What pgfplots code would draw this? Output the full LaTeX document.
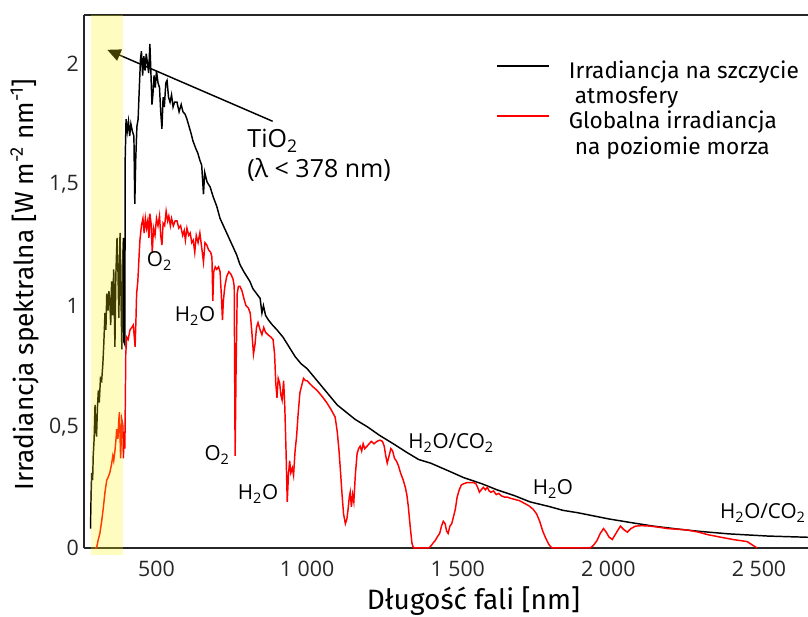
\documentclass[border=0pt]{standalone}
\usepackage{fontspec}
\setmainfont{Fira Sans}
\newfontfamily\osans{Open Sans}
\usepackage{pgfplots}
\usepackage{pgfplotstable}
\pgfplotsset{compat=1.18}
\usetikzlibrary{arrows.meta}

% irradiance at top of atmosphere
\pgfplotstableread{
nm E
281 0.08
283 0.22
285 0.31
288 0.28
290 0.38
293 0.45
296 0.59
298 0.50
301 0.46
304 0.58
307 0.65
310 0.60
314 0.70
318 0.69
322 0.76
325 0.84
329 0.97
332 0.90
335 1.05
339 0.98
342 1.06
345 1.02
348 0.92
351 1.10
354 0.96
358 1.15
362 0.83
365 1.12
369 1.28
372 1.15
375 0.95
379 1.30
382 1.05
385 0.82
388 1.20
390 1.28
392 0.85
395 0.84
396 1.60
399 1.77
403 1.72
407 1.76
411 1.70
415 1.75
420 1.72
425 1.70
428 1.42
431 1.60
435 1.74
439 1.77
443 1.90
447 2.02
450 2.05
454 1.95
458 2.03
462 1.97
466 2.04
470 2.00
474 1.96
478 2.08
481 1.98
485 1.83
488 1.87
492 1.95
496 1.90
500 1.97
505 1.92
510 1.90
514 1.80
518 1.73
522 1.86
526 1.82
531 1.92
535 1.93
540 1.86
545 1.84
550 1.87
555 1.82
560 1.84
568 1.84
575 1.80
582 1.83
588 1.80
595 1.79
601 1.77
608 1.74
615 1.71
621 1.68
630 1.65
637 1.63
644 1.60
650 1.58
656 1.46
660 1.55
668 1.51
678 1.49
688 1.45
700 1.41
711 1.36
722 1.33
733 1.30
744 1.27
755 1.24
766 1.21
777 1.17
790 1.14
800 1.12
810 1.10
820 1.07
832 1.05
844 1.03
850 0.97
855 1.00
862 0.96
872 0.94
885 0.92
900 0.90
920 0.87
940 0.83
960 0.79
980 0.76
1000 0.74
1020 0.71
1040 0.68
1060 0.65
1080 0.62
1100 0.59
1130 0.56
1160 0.53
1200 0.50
1240 0.465
1286 0.43
1330 0.395
1370 0.365
1410 0.35
1475 0.315
1520 0.29
1580 0.265
1630 0.24
1690 0.215
1740 0.19
1800 0.172
1850 0.155
1900 0.145
1960 0.13
2000 0.12
2073 0.105
2150 0.09
2230 0.078
2306 0.068
2400 0.058
2530 0.049
2663 0.044
}\toa

% global irradiance at sea level
\pgfplotstableread{
nm E
296 0.0
301 0.0
306 0.03
312 0.06
318 0.11
323 0.16
329 0.23
335 0.28
339 0.29
345 0.31
350 0.34
355 0.38
358 0.36
362 0.40
365 0.44
368 0.49
372 0.45
375 0.53
377 0.56
381 0.37
385 0.53
388 0.51
390 0.37
393 0.48
395 0.41
398 0.80
401 0.87
406 0.86
412 0.90
418 0.91
423 0.92
429 0.83
432 0.95
434 1.05
438 1.10
442 1.20
445 1.27
450 1.33
455 1.36
459 1.30
463 1.36
467 1.32
471 1.35
475 1.28
478 1.38
482 1.34
486 1.22
490 1.32
495 1.29
500 1.36
505 1.33
510 1.37
514 1.29
518 1.25
522 1.34
527 1.33
532 1.39
537 1.35
541 1.37
546 1.33
550 1.36
556 1.33
562 1.35
568 1.35
574 1.32
580 1.33
587 1.29
592 1.31
596 1.27
601 1.32
607 1.29
612 1.30
617 1.26
622 1.27
627 1.22
632 1.29
638 1.26
644 1.30
650 1.24
656 1.18
661 1.26
667 1.25
673 1.23
680 1.22
684 1.20
687 1.02
690 1.14
695 1.16
700 1.15
706 1.16
711 1.14
715 1.05
719 0.94
722 1.02
727 1.08
733 1.12
740 1.14
747 1.13
754 1.11
758 1.08
761 0.38
764 0.72
768 1.05
772 1.08
777 1.08
784 1.06
790 1.03
797 1.00
805 0.99
811 0.97
816 0.90
822 0.80
827 0.84
832 0.91
837 0.93
844 0.90
850 0.88
856 0.91
862 0.89
870 0.88
880 0.87
887 0.86
892 0.80
896 0.68
900 0.62
904 0.70
909 0.68
913 0.63
917 0.61
922 0.69
926 0.58
930 0.40
934 0.19
938 0.30
942 0.36
946 0.31
951 0.33
955 0.30
960 0.40
965 0.46
970 0.55
976 0.64
982 0.67
988 0.70
995 0.69
1000 0.69
1015 0.67
1033 0.65
1050 0.625
1065 0.60
1080 0.57
1093 0.54
1100 0.48
1106 0.40
1110 0.33
1116 0.22
1121 0.14
1127 0.10
1132 0.12
1136 0.16
1140 0.21
1143 0.23
1147 0.17
1151 0.22
1155 0.19
1160 0.30
1166 0.39
1171 0.41
1176 0.42
1181 0.40
1186 0.43
1191 0.41
1199 0.42
1206 0.43
1213 0.44
1222 0.43
1232 0.44
1242 0.445
1250 0.44
1256 0.42
1261 0.38
1266 0.35
1272 0.38
1278 0.41
1284 0.40
1290 0.37
1296 0.36
1303 0.34
1310 0.31
1319 0.28
1326 0.25
1331 0.22
1336 0.17
1342 0.09
1348 0.02
1353 0.0
1405 0.0
1412 0.01
1418 0.02
1425 0.03
1432 0.045
1440 0.06
1446 0.09
1452 0.11
1458 0.10
1463 0.07
1468 0.06
1474 0.09
1480 0.10
1486 0.13
1492 0.16
1498 0.21
1505 0.24
1512 0.26
1520 0.265
1531 0.27
1542 0.27
1553 0.27
1560 0.265
1566 0.25
1572 0.23
1578 0.24
1585 0.25
1592 0.24
1598 0.25
1604 0.235
1610 0.23
1619 0.235
1628 0.22
1636 0.225
1645 0.215
1655 0.21
1664 0.21
1675 0.205
1690 0.20
1705 0.195
1720 0.185
1735 0.175
1750 0.16
1762 0.14
1772 0.11
1782 0.07
1792 0.04
1802 0.015
1812 0.0
1940 0.0
1950 0.01
1962 0.03
1973 0.06
1984 0.08
1993 0.065
2002 0.045
2013 0.035
2025 0.06
2040 0.09
2052 0.075
2063 0.065
2075 0.08
2090 0.09
2110 0.092
2140 0.09
2170 0.085
2196 0.08
2230 0.077
2262 0.074
2300 0.065
2329 0.055
2370 0.045
2417 0.034
2440 0.03
2461 0.026
2478 0.012
2494 0.0
}\sealevel

\begin{document}
\begin{tikzpicture}
\begin{axis}[
  scale only axis,
  width=543pt, height=399.75pt,
  xmin=259.3, xmax=2662.7,
  ymin=0, ymax=2.2,
  clip=false,
  axis x line*=box, axis y line*=left,
  axis line style={line width=1pt, black!85},
  major tick length=0pt,
  xtick={500,1000,1500,2000,2500},
  xticklabels={500,1 000,1 500,2 000,2 500},
  ytick={0,0.5,1,1.5,2},
  yticklabels={0,{0,5},1,{1,5},2},
  ticklabel style={font=\osans\fontsize{16}{19}\selectfont, text=black!85},
  xticklabel style={anchor=base, yshift=-21.75pt},
  yticklabel style={inner sep=0pt, xshift=-3.75pt},
  xlabel={Długość fali [nm]},
  ylabel={Irradiancja spektralna [W m\textsuperscript{-2} nm\textsuperscript{-1}]},
  xlabel style={font=\fontsize{21}{24}\selectfont,
    at={(rel axis cs:0.538,-0.1163)}, anchor=base},
  ylabel style={font=\fontsize{19.7}{23}\selectfont,
    at={(rel axis cs:-0.0704,0.494)}, anchor=base, rotate=0},
  legend style={draw=none, fill=none, at={(rel axis cs:0.570,0.918)},
    anchor=north west, inner sep=0pt, outer sep=0pt, row sep=18.75pt,
    column sep=12pt, font=\fontsize{17}{18.75}\selectfont,
    cells={anchor=west}},
  legend image code/.code={\draw[#1] (0pt,4pt) -- (39pt,4pt);},
]
\addplot[black, line width=1.1pt] table[x=nm, y=E] {\toa};
\addlegendentry{\begin{tabular}[t]{@{}l@{}}Irradiancja na szczycie\\ \ atmosfery\end{tabular}}
\addplot[red, line width=1.1pt] table[x=nm, y=E] {\sealevel};
\addlegendentry{\begin{tabular}[t]{@{}l@{}}Globalna irradiancja\\ \ na poziomie morza\end{tabular}}

\begin{scope}[font=\osans\fontsize{15.5}{18}\selectfont]
\node at (axis cs:510,1.185) {O\textsubscript{2}};
\node at (axis cs:628,0.959) {H\textsubscript{2}O};
\node at (axis cs:701,0.383) {O\textsubscript{2}};
\node at (axis cs:837,0.222) {H\textsubscript{2}O};
\node at (axis cs:1478,0.432) {H\textsubscript{2}O/CO\textsubscript{2}};
\node at (axis cs:1816,0.243) {H\textsubscript{2}O};
\node[overlay, anchor=west, inner sep=0pt] at (axis cs:2370,0.144) {H\textsubscript{2}O/CO\textsubscript{2}};
\end{scope}

\node[anchor=north west, inner sep=0pt, align=left,
  font=\osans\fontsize{18.75}{22.5}\selectfont] at (axis cs:801,1.728)
  {TiO\textsubscript{2}\\(λ < 378 nm)};
\draw[line width=1.1pt, -{Triangle[length=10pt, width=9pt]}]
  (axis cs:885.7,1.761) -- (axis cs:336.7,2.056);

\fill[yellow, opacity=0.25] (axis cs:282.6,-0.029) rectangle (axis cs:387.8,2.2);

\coordinate (bbsw) at (rel axis cs:-0.116,-0.1295);
\coordinate (bbne) at (rel axis cs:1,1.028);
\end{axis}
\pgfresetboundingbox
\useasboundingbox (bbsw) rectangle (bbne);
\end{tikzpicture}
\end{document}
